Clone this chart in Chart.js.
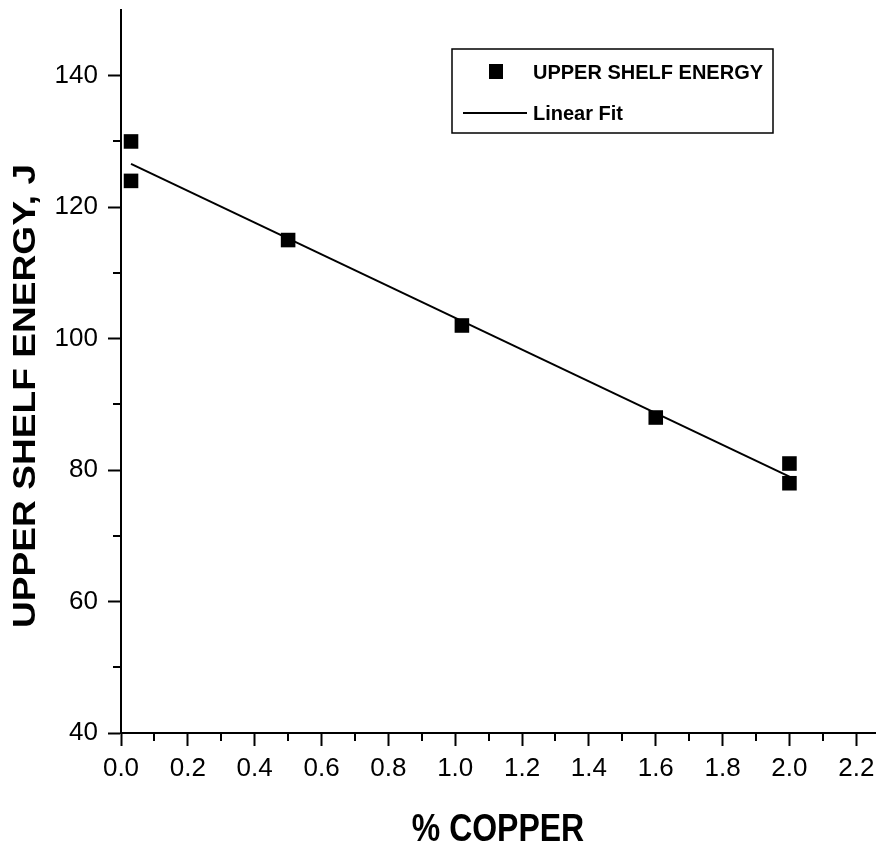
<!DOCTYPE html>
<html>
<head>
<meta charset="utf-8">
<script src="https://cdn.jsdelivr.net/npm/chart.js@4.4.1/dist/chart.umd.min.js"></script>
<style>
  html, body { margin: 0; padding: 0; background: #fff; }
  #wrap { width: 877px; height: 845px; }
</style>
</head>
<body>
<div id="wrap"><canvas id="copperChart" width="877" height="845"></canvas></div>
<script>
// Data
const copperPct = [0.03, 0.03, 0.5, 1.02, 1.6, 2.0, 2.0];
const shelfEnergy = [130, 124, 115, 102, 88, 81, 78];
const fitX = [0.03, 2.0];
const fitY = [126.6, 79.0];

// Axis ticks
const xTicks = [0.0, 0.2, 0.4, 0.6, 0.8, 1.0, 1.2, 1.4, 1.6, 1.8, 2.0, 2.2];
const xMinorTicks = [0.1, 0.3, 0.5, 0.7, 0.9, 1.1, 1.3, 1.5, 1.7, 1.9, 2.1];
const yTicks = [40, 60, 80, 100, 120, 140];
const yMinorTicks = [50, 70, 90, 110, 130];

const xTitle = '% COPPER';
const yTitle = 'UPPER SHELF ENERGY, J';

const SANS = '"Liberation Sans", Arial, sans-serif';

// minor ticks, axis titles and the boxed legend
const extras = {
    id: 'extras',
    afterDraw(chart) {
        const c = chart.ctx;
        const xs = chart.scales.x, ys = chart.scales.y;
        const area = chart.chartArea;
        c.save();
        c.strokeStyle = '#000';
        c.fillStyle = '#000';
        c.lineWidth = 2;
        c.beginPath();
        xMinorTicks.forEach(v => {
            const px = Math.round(xs.getPixelForValue(v));
            c.moveTo(px, area.bottom);
            c.lineTo(px, area.bottom + 8);
        });
        yMinorTicks.forEach(v => {
            const py = Math.round(ys.getPixelForValue(v));
            c.moveTo(area.left, py);
            c.lineTo(area.left - 8, py);
        });
        c.stroke();

        // x axis title (condensed bold, like the original)
        c.save();
        c.translate((area.left + area.right) / 2, 841);
        c.scale(0.82, 1);
        c.font = 'bold 39px ' + SANS;
        c.textAlign = 'center';
        c.textBaseline = 'alphabetic';
        c.fillText(xTitle, 0, 0);
        c.restore();

        // y axis title (slightly stretched)
        c.save();
        c.translate(35, 396);
        c.rotate(-Math.PI / 2);
        c.scale(1.16, 1);
        c.font = 'bold 32px ' + SANS;
        c.textAlign = 'center';
        c.textBaseline = 'alphabetic';
        c.fillText(yTitle, 0, 0);
        c.restore();

        // legend box
        const pts = chart.data.datasets[0];
        const fit = chart.data.datasets[1];
        c.lineWidth = 1.5;
        c.strokeRect(452, 49, 321, 84);
        c.fillRect(489, 64, 14, 15);
        c.beginPath();
        c.lineWidth = 2;
        c.moveTo(463, 113);
        c.lineTo(527, 113);
        c.stroke();
        c.font = 'bold 20px ' + SANS;
        c.textBaseline = 'middle';
        c.textAlign = 'left';
        c.fillText(pts.label, 533, 73);
        c.fillText(fit.label, 533, 114);
        c.restore();
    }
};

new Chart(document.getElementById('copperChart'), {
    type: 'scatter',
    data: {
        datasets: [
            {
                label: 'UPPER SHELF ENERGY',
                data: copperPct.map((x, i) => ({ x: x, y: shelfEnergy[i] })),
                pointStyle: 'rect',
                pointRadius: 10.3,
                pointHoverRadius: 10.3,
                backgroundColor: '#000',
                borderColor: '#000',
                borderWidth: 0,
                showLine: false
            },
            {
                label: 'Linear Fit',
                data: fitX.map((x, i) => ({ x: x, y: fitY[i] })),
                showLine: true,
                pointRadius: 0,
                borderColor: '#000',
                borderWidth: 2,
                fill: false
            }
        ]
    },
    options: {
        responsive: false,
        animation: false,
        layout: { autoPadding: false, padding: { top: 10, right: 2, left: 0, bottom: 0 } },
        plugins: {
            legend: { display: false },
            tooltip: { enabled: false }
        },
        scales: {
            x: {
                type: 'linear',
                min: 0,
                max: 2.256,
                afterBuildTicks: s => { s.ticks = xTicks.map(v => ({ value: v })); },
                afterFit: s => {
                    s.height = 112;
                    s.paddingLeft = 0;
                    s.paddingRight = 0;
                },
                border: { display: true, color: '#000', width: 2 },
                grid: { drawOnChartArea: false, drawTicks: true, tickLength: 13, tickColor: '#000', tickWidth: 2 },
                ticks: {
                    color: '#000',
                    padding: 7,
                    maxRotation: 0,
                    autoSkip: false,
                    font: { family: SANS, size: 26 },
                    callback: v => v.toFixed(1)
                }
            },
            y: {
                type: 'linear',
                min: 40,
                max: 150,
                afterBuildTicks: s => { s.ticks = yTicks.map(v => ({ value: v })); },
                afterFit: s => {
                    s.width = 121;
                    s.paddingTop = 0;
                    s.paddingBottom = 0;
                },
                border: { display: true, color: '#000', width: 2 },
                grid: { drawOnChartArea: false, drawTicks: true, tickLength: 13, tickColor: '#000', tickWidth: 2 },
                ticks: {
                    color: '#000',
                    padding: 10,
                    autoSkip: false,
                    font: { family: SANS, size: 26 },
                    callback: v => String(v)
                }
            }
        }
    },
    plugins: [extras]
});
</script>
</body>
</html>
